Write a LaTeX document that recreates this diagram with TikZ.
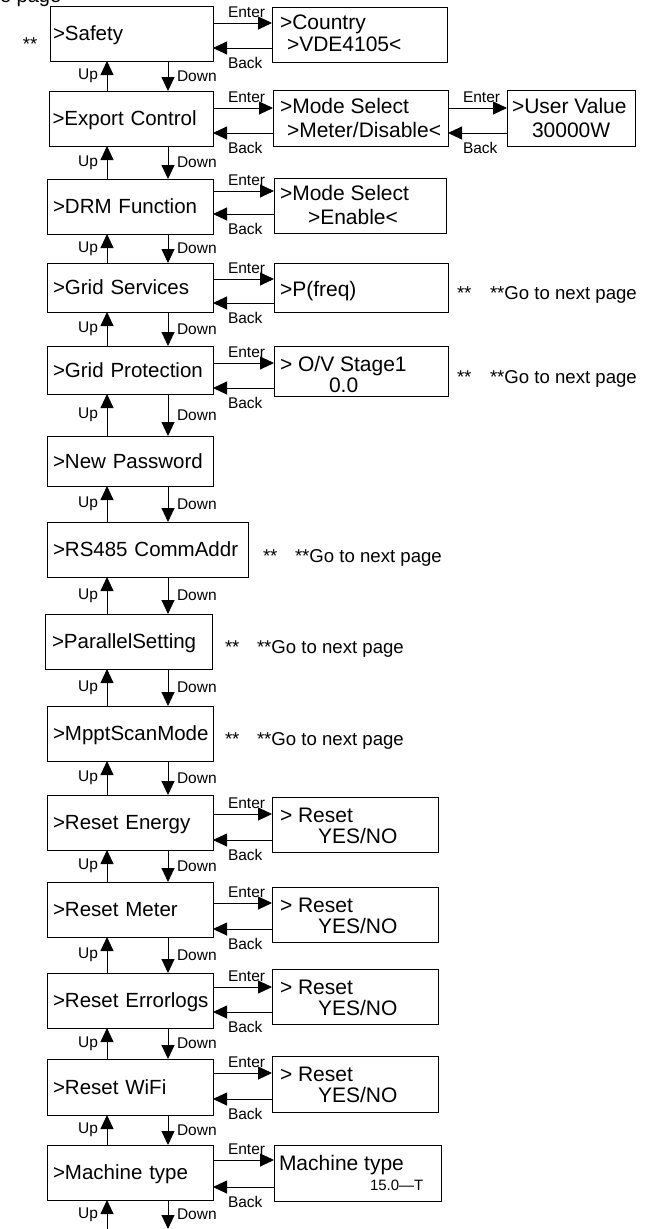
\documentclass[tikz,border=0pt]{standalone}
\usepackage{fontspec}
\setmainfont{Liberation Sans}
\usetikzlibrary{arrows.meta}
\begin{document}
\begin{tikzpicture}[x=1pt,y=-1pt,
  every node/.style={inner sep=0pt, outer sep=0pt},
  lbox/.style={draw, line width=0.9pt, anchor=north west, minimum height=55pt, inner xsep=6pt, inner ysep=0pt, text width=154pt, align=left, text height=17pt, text depth=3pt, font=\fontsize{20.5}{24}\selectfont},
  rbox/.style={draw, line width=0.9pt, anchor=north west},
  rtxt/.style={anchor=base west, font=\fontsize{21}{24}\selectfont},
  smalltxt/.style={anchor=base west, font=\fontsize{15}{17}\selectfont},
  lbl/.style={font=\fontsize{15.5}{17}\selectfont},
  note/.style={anchor=base west, font=\fontsize{18.6}{20}\selectfont},
  arr/.style={line width=0.9pt, -{Triangle[length=14pt,width=13pt]}},
]
\useasboundingbox (0,0) rectangle (654,1229);
\coordinate (upx) at (107,0);
\coordinate (dnx) at (168,0);
\coordinate (bot) at (0,1229);

% left column
\node[lbox, inner xsep=3pt, text width=157pt] (L1) at (50,6) {\rlap{>Safety}};
\node[lbox, inner xsep=3.5pt, text width=157pt] (L2) at (49,91) {\rlap{>Export Control}};
\node[lbox] (L3) at (47,179) {\rlap{>DRM Function}};
\node[lbox, minimum height=49pt] (L4) at (47,263) {\rlap{>Grid Services}};
\node[lbox, minimum height=48pt] (L5) at (47,346) {\rlap{>Grid Protection}};
\node[lbox, minimum height=50pt] (L6) at (47,436) {\rlap{>New Password}};
\node[lbox, text width=189pt] (L7) at (47,522) {\rlap{>RS485 CommAddr}};
\node[lbox, inner xsep=7pt, text width=153pt] (L8) at (45,614) {\rlap{>ParallelSetting}};
\node[lbox] (L9) at (47,706) {\rlap{>MpptScanMode}};
\node[lbox] (L10) at (47,795) {\rlap{>Reset Energy}};
\node[lbox] (L11) at (47,882) {\rlap{>Reset Meter}};
\node[lbox] (L12) at (47,973) {\rlap{>Reset Errorlogs}};
\node[lbox, minimum height=56pt] (L13) at (47,1059) {\rlap{>Reset WiFi}};
\node[lbox] (L14) at (47,1145) {\rlap{>Machine type}};

% right boxes
\node[rbox, minimum width=175pt, minimum height=55pt] (R1) at (272,7) {};
\node[rtxt] (R1a) at (280,29) {>Country};
\node[rtxt] (R1b) at (287,51) {>VDE4105<};

\node[rbox, minimum width=175pt, minimum height=56pt] (R2) at (273,90) {};
\node[rtxt] (R2a) at (280,113) {>Mode Select};
\node[rtxt] (R2b) at (287,137) {>Meter/Disable<};

\node[rbox, minimum width=128pt, minimum height=56pt] (U2) at (507,90) {};
\node[rtxt] (U2a) at (512,113) {>User Value};
\node[rtxt] (U2b) at (532,137) {30000W};

\node[rbox, minimum width=172pt, minimum height=55pt] (R3) at (274,178) {};
\node[rtxt] (R3a) at (280,200) {>Mode Select};
\node[rtxt] (R3b) at (308,224) {>Enable<};

\node[rbox, minimum width=174pt, minimum height=49pt] (R4) at (274,263) {};
\node[rtxt] (R4a) at (280,296) {>P(freq)};

\node[rbox, minimum width=174pt, minimum height=50pt] (R5) at (274,346) {};
\node[rtxt] (R5a) at (280,371) {> O/V Stage1};
\node[rtxt] (R5b) at (329,392) {0.0};

\node[rbox, minimum width=166pt, minimum height=55pt] (R10) at (272,797) {};
\node[rtxt] (R10a) at (280,822) {> Reset};
\node[rtxt] (R10b) at (318,843) {YES/NO};

\node[rbox, minimum width=166pt, minimum height=55pt] (R11) at (272,887) {};
\node[rtxt] (R11a) at (280,912) {> Reset};
\node[rtxt] (R11b) at (318,933) {YES/NO};

\node[rbox, minimum width=166pt, minimum height=55pt] (R12) at (272,969) {};
\node[rtxt] (R12a) at (280,994) {> Reset};
\node[rtxt] (R12b) at (318,1015) {YES/NO};

\node[rbox, minimum width=166pt, minimum height=56pt] (R13) at (272,1056) {};
\node[rtxt] (R13a) at (280,1081) {> Reset};
\node[rtxt] (R13b) at (318,1102) {YES/NO};

\node[rbox, minimum width=167pt, minimum height=56pt] (R14) at (274,1145) {};
\node[rtxt] (R14a) at (279,1170) {Machine type};
\node[smalltxt] (R14b) at (370,1190) {15.0—T};

% notes
\node[note, font=\fontsize{20}{22}\selectfont] (top) at (0,2.5) {e page};
\node[note] (s0) at (23,50) {**};
\node[note] (n4a) at (457,299) {**};
\node[note] (n4b) at (490,299) {**Go to next page};
\node[note] (n5a) at (457,383) {**};
\node[note] (n5b) at (490,383) {**Go to next page};
\node[note] (n7a) at (263,562) {**};
\node[note] (n7b) at (295,562) {**Go to next page};
\node[note] (n8a) at (225,653) {**};
\node[note] (n8b) at (257,653) {**Go to next page};
\node[note] (n9a) at (225,745) {**};
\node[note] (n9b) at (257,745) {**Go to next page};

% up / down connectors
\foreach \a/\b in {L1/L2,L2/L3,L3/L4,L4/L5,L5/L6,L6/L7,L7/L8,L8/L9,L9/L10,L10/L11,L11/L12,L12/L13,L13/L14}{
  \draw[arr] (upx |- \b.north) -- (upx |- \a.south) node[midway, lbl, anchor=east, xshift=-9pt] (u\a) {Up};
  \draw[arr] (dnx |- \a.south) -- (dnx |- \b.north) node[midway, lbl, anchor=west, xshift=9pt] (d\a) {Down};
}
\draw[arr] (upx |- bot) -- (upx |- L14.south) node[midway, lbl, anchor=east, xshift=-9pt] (uL14) {Up};
\draw[arr] (dnx |- L14.south) -- (dnx |- bot) node[midway, lbl, anchor=west, xshift=9pt] (dL14) {Down};

% enter / back connectors
\foreach \l/\r/\ye/\yb in {L1/R1/23/48, L2/R2/108/133, L3/R3/191/214, L4/R4/279/303, L5/R5/363/388, L10/R10/814/840, L11/R11/903/929, L12/R12/987/1012, L13/R13/1073/1099, L14/R14/1160/1187, R2/U2/108/133}{
  \draw[arr] (\l.east |- 0,\ye) -- (\r.west |- 0,\ye) node[pos=0, lbl, anchor=base west, xshift=15pt, yshift=6pt] (e\l\r) {Enter};
  \draw[arr] (\r.west |- 0,\yb) -- (\l.east |- 0,\yb) node[pos=1, lbl, anchor=base west, xshift=15pt, yshift=-20pt] (b\l\r) {Back};
}
\end{tikzpicture}
\end{document}
